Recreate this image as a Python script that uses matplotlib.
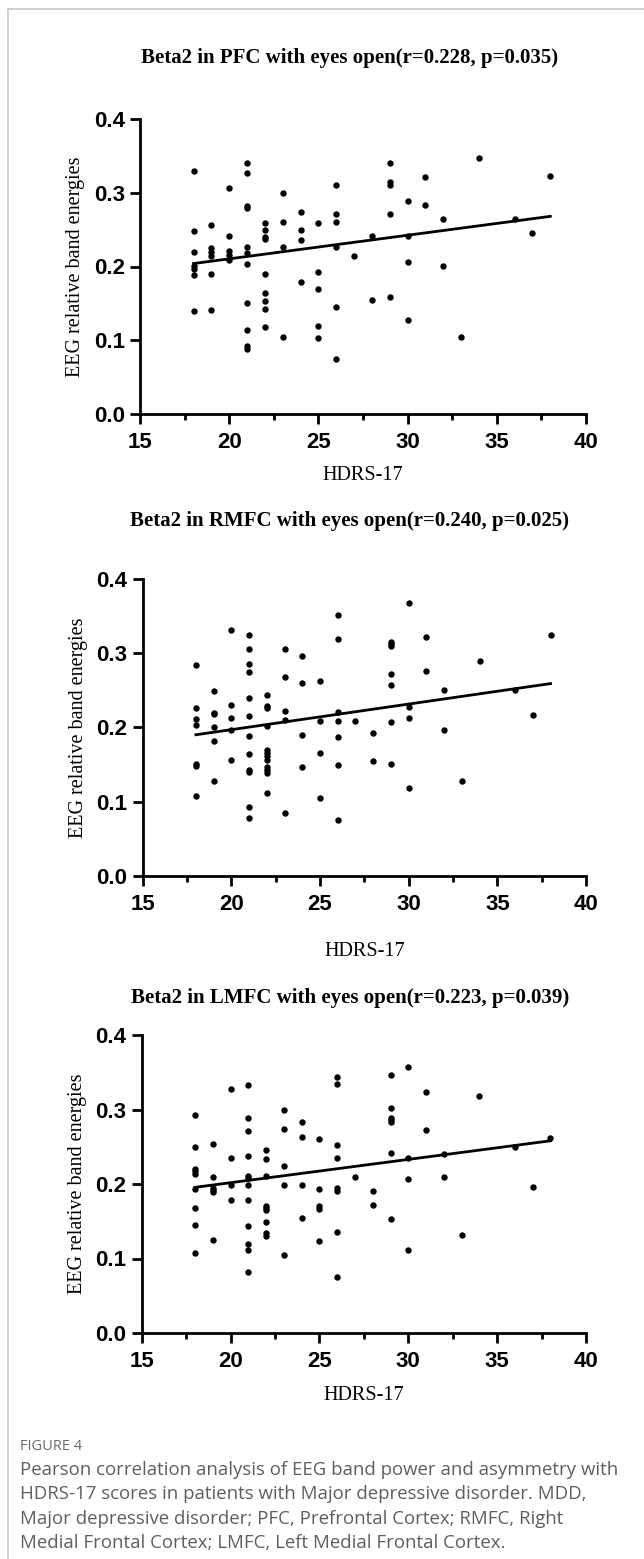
import matplotlib
matplotlib.use("Agg")
import matplotlib.pyplot as plt
from matplotlib.lines import Line2D
from matplotlib.ticker import MultipleLocator

# HDRS-17 score (x) and Beta2 relative band energy (y)
pfc_hdrs = [18, 18, 18, 18, 18, 18, 18,
            19, 19, 19, 19, 19, 19,
            20, 20, 20, 20, 20,
            21, 21, 21, 21, 21, 21, 21, 21, 21, 21, 21,
            22, 22, 22, 22, 22, 22, 22, 22, 22,
            23, 23, 23, 23,
            24, 24, 24, 24,
            25, 25, 25, 25, 25,
            26, 26, 26, 26, 26, 26,
            27, 28, 28,
            29, 29, 29, 29, 29,
            30, 30, 30, 30,
            31, 31, 32, 32, 33, 34, 36, 37, 38]
pfc_beta2 = [0.330, 0.248, 0.220, 0.201, 0.196, 0.188, 0.140,
             0.256, 0.225, 0.220, 0.214, 0.190, 0.141,
             0.306, 0.242, 0.221, 0.215, 0.209,
             0.341, 0.327, 0.282, 0.279, 0.227, 0.218, 0.203, 0.150, 0.114, 0.092, 0.088,
             0.259, 0.250, 0.240, 0.237, 0.190, 0.164, 0.153, 0.143, 0.118,
             0.300, 0.261, 0.226, 0.105,
             0.274, 0.250, 0.236, 0.179,
             0.259, 0.192, 0.169, 0.120, 0.103,
             0.310, 0.271, 0.261, 0.227, 0.145, 0.074,
             0.214, 0.241, 0.155,
             0.340, 0.315, 0.311, 0.271, 0.159,
             0.289, 0.242, 0.206, 0.128,
             0.322, 0.284, 0.265, 0.201, 0.105, 0.347, 0.264, 0.245, 0.323]

rmfc_hdrs = [18, 18, 18, 18, 18, 18, 18,
             19, 19, 19, 19, 19, 19,
             20, 20, 20, 20, 20,
             21, 21, 21, 21, 21, 21, 21, 21, 21, 21, 21, 21,
             22, 22, 22, 22, 22, 22, 22, 22, 22, 22, 22, 22,
             23, 23, 23, 23, 23,
             24, 24, 24, 24,
             25, 25, 25, 25,
             26, 26, 26, 26, 26, 26, 26,
             27, 28, 28,
             29, 29, 29, 29, 29, 29, 29,
             30, 30, 30, 30,
             31, 31, 32, 32, 33, 34, 36, 37, 38]
rmfc_beta2 = [0.284, 0.226, 0.211, 0.203, 0.150, 0.148, 0.107,
              0.249, 0.220, 0.218, 0.200, 0.181, 0.128,
              0.331, 0.230, 0.213, 0.197, 0.156,
              0.325, 0.306, 0.285, 0.274, 0.239, 0.215, 0.188, 0.164, 0.142, 0.140, 0.093, 0.078,
              0.243, 0.229, 0.226, 0.202, 0.170, 0.166, 0.161, 0.156, 0.146, 0.143, 0.138, 0.112,
              0.305, 0.268, 0.222, 0.210, 0.084,
              0.296, 0.260, 0.190, 0.146,
              0.263, 0.209, 0.165, 0.105,
              0.352, 0.319, 0.221, 0.209, 0.187, 0.149, 0.075,
              0.209, 0.193, 0.155,
              0.315, 0.312, 0.309, 0.272, 0.257, 0.207, 0.150,
              0.368, 0.228, 0.212, 0.118,
              0.322, 0.276, 0.251, 0.197, 0.128, 0.289, 0.250, 0.216, 0.325]

lmfc_hdrs = [18, 18, 18, 18, 18, 18, 18, 18, 18,
             19, 19, 19, 19, 19, 19,
             20, 20, 20, 20,
             21, 21, 21, 21, 21, 21, 21, 21, 21, 21, 21, 21,
             22, 22, 22, 22, 22, 22, 22, 22, 22,
             23, 23, 23, 23, 23,
             24, 24, 24, 24,
             25, 25, 25, 25, 25,
             26, 26, 26, 26, 26, 26, 26, 26,
             27, 28, 28,
             29, 29, 29, 29, 29, 29, 29,
             30, 30, 30, 30,
             31, 31, 32, 32, 33, 34, 36, 37, 38]
lmfc_beta2 = [0.292, 0.249, 0.220, 0.217, 0.214, 0.193, 0.168, 0.145, 0.107,
              0.254, 0.210, 0.194, 0.192, 0.189, 0.125,
              0.328, 0.235, 0.199, 0.178,
              0.333, 0.288, 0.271, 0.238, 0.211, 0.208, 0.199, 0.179, 0.144, 0.120, 0.112, 0.082,
              0.246, 0.233, 0.211, 0.171, 0.168, 0.165, 0.149, 0.134, 0.130,
              0.300, 0.274, 0.224, 0.198, 0.105,
              0.283, 0.263, 0.198, 0.154,
              0.260, 0.193, 0.170, 0.167, 0.123,
              0.344, 0.334, 0.252, 0.235, 0.194, 0.190, 0.136, 0.075,
              0.210, 0.190, 0.172,
              0.346, 0.302, 0.288, 0.286, 0.283, 0.242, 0.153,
              0.357, 0.235, 0.207, 0.112,
              0.323, 0.272, 0.240, 0.210, 0.131, 0.318, 0.249, 0.196, 0.262]

# regression line end points (x = 18 and 38)
fit_x = [18, 38]
pfc_fit = [0.204, 0.268]
rmfc_fit = [0.190, 0.259]
lmfc_fit = [0.1955, 0.258]

yticks = [0.0, 0.1, 0.2, 0.3, 0.4]
ytick_labels = ["0.0", "0.1", "0.2", "0.3", "0.4"]
xticks = [15, 20, 25, 30, 35, 40]

titles = ["Beta2 in PFC with eyes open(r=0.228, p=0.035)",
          "Beta2 in RMFC with eyes open(r=0.240, p=0.025)",
          "Beta2 in LMFC with eyes open(r=0.223, p=0.039)"]

caption_head = "FIGURE 4"
caption = ("Pearson correlation analysis of EEG band power and asymmetry with\n"
           "HDRS-17 scores in patients with Major depressive disorder. MDD,\n"
           "Major depressive disorder; PFC, Prefrontal Cortex; RMFC, Right\n"
           "Medial Frontal Cortex; LMFC, Left Medial Frontal Cortex.")

W, H = 644, 1559
fig = plt.figure(figsize=(W / 100, H / 100), dpi=100)

# light frame around the figure (top and left edge)
fig.add_artist(Line2D([8 / W, 8 / W], [0, 1 - 9 / H], color="#c8c8c8", lw=1.2))
fig.add_artist(Line2D([8 / W, 1], [1 - 9 / H, 1 - 9 / H], color="#c8c8c8", lw=1.2))


def panel(left, right, top, bottom, xs, ys, fit, title, title_y, xlabel_y):
    ax = fig.add_axes([left / W, 1 - bottom / H, (right - left) / W, (bottom - top) / H])
    ax.plot(xs, ys, "o", color="black", ms=4.6, mew=0)
    ax.plot(fit_x, fit, color="black", lw=2)
    ax.set_xlim(15, 40)
    ax.set_ylim(0, 0.4)
    ax.set_xticks(xticks)
    ax.xaxis.set_minor_locator(MultipleLocator(2.5))
    ax.set_yticks(yticks, ytick_labels)
    for s in ["top", "right"]:
        ax.spines[s].set_visible(False)
    for s in ["left", "bottom"]:
        ax.spines[s].set_linewidth(2)
    ax.tick_params(which="major", direction="out", length=7, width=2, pad=4)
    ax.tick_params(which="minor", direction="out", length=4.5, width=2)
    ax.tick_params(axis="x", which="major", pad=6)
    for lab in ax.get_xticklabels() + ax.get_yticklabels():
        lab.set_fontfamily("Liberation Sans")
        lab.set_fontweight("bold")
        lab.set_fontsize(16)
    ax.set_ylabel("EEG relative band energies", fontfamily="Liberation Serif",
                  fontsize=14.5, labelpad=6)
    fig.text(350 / W, 1 - title_y / H, title, fontfamily="Liberation Serif",
             fontweight="bold", fontsize=15, ha="center", va="center")
    fig.text((left + right) / 2 / W, 1 - xlabel_y / H, "HDRS-17",
             fontfamily="Liberation Serif", fontsize=14.5, ha="center", va="center")
    return ax


panel(140, 586, 119, 414, pfc_hdrs, pfc_beta2, pfc_fit, titles[0], 58, 476)
panel(142.7, 586, 579, 875.7, rmfc_hdrs, rmfc_beta2, rmfc_fit, titles[1], 521, 952)
panel(141.7, 586, 1035, 1333, lmfc_hdrs, lmfc_beta2, lmfc_fit, titles[2], 998, 1395)

fig.text(20 / W, 1 - 1446 / H, caption_head, fontfamily="Open Sans", fontsize=10.5,
         color="#6b6b6b", ha="left", va="center")
fig.text(20 / W, 1 - 1461 / H, caption, fontfamily="Open Sans", fontsize=13.4,
         color="#5e5e5e", ha="left", va="top", linespacing=1.45)

fig.savefig("out.png", dpi=100)
